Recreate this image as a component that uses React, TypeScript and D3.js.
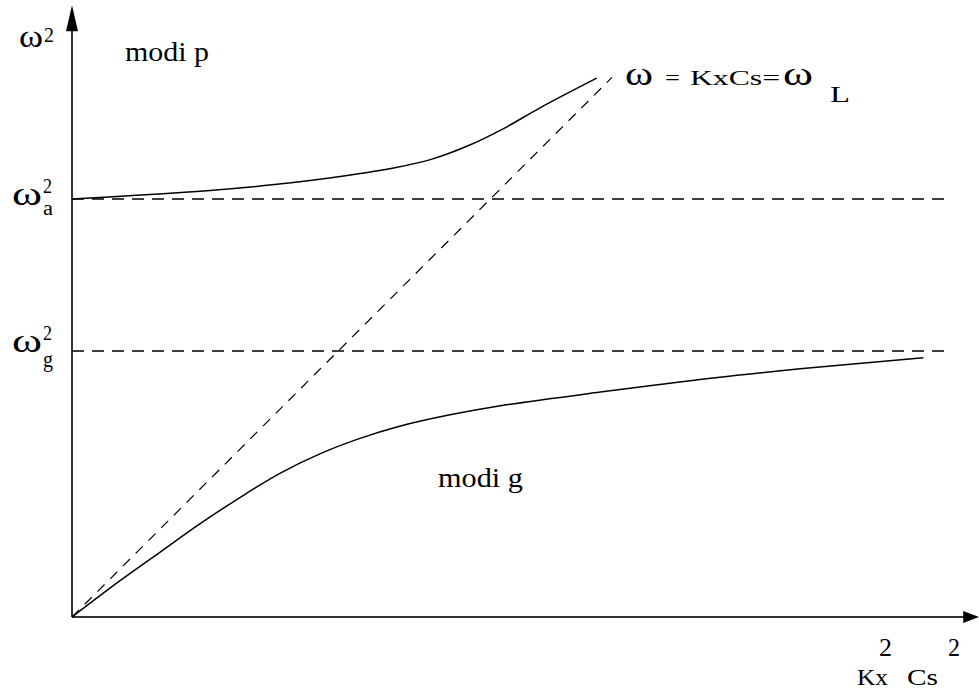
import React from "react";
import * as d3 from "d3";

// kx²cs² (horizontal) and ω² (vertical), arbitrary units
const pModeX = [0, 1.5, 2.25, 3.0, 3.6, 4.0, 4.4, 4.8, 5.2, 5.83];
const pModeY = [11.0, 11.22, 11.38, 11.6, 11.83, 12.05, 12.4, 12.86, 13.4, 14.18];

const gModeX = [0, 0.53, 0.98, 1.42, 1.87, 2.31, 2.76, 3.2, 3.64, 4.2, 4.76, 5.87, 7.12, 8.09, 9.46];
const gModeY = [0, 0.95, 1.71, 2.45, 3.15, 3.78, 4.3, 4.7, 5.02, 5.32, 5.56, 5.92, 6.29, 6.53, 6.82];

const lambX = [0, 6.0];
const lambY = [0, 14.2];

const omegaA2 = 11;
const omegaG2 = 7;
const refLineEnd = 9.72;

const W = 979;
const H = 692;
const FONT = "Liberation Serif, Times New Roman, serif";

export default function App() {
  const x = d3.scaleLinear().domain([0, 10]).range([72, 972]);
  const y = d3.scaleLinear().domain([0, 16]).range([617, 9]);

  const line = d3
    .line<[number, number]>()
    .x((d) => x(d[0]))
    .y((d) => y(d[1]))
    .curve(d3.curveCatmullRom.alpha(0.5));
  const straight = d3
    .line<[number, number]>()
    .x((d) => x(d[0]))
    .y((d) => y(d[1]));

  const pPts = pModeX.map((v, i) => [v, pModeY[i]] as [number, number]);
  const gPts = gModeX.map((v, i) => [v, gModeY[i]] as [number, number]);
  const lPts = lambX.map((v, i) => [v, lambY[i]] as [number, number]);

  const x0 = x(0);
  const y0 = y(0);
  const yTip = y(16.1);
  const xTip = x(10.08);

  const T = (props: any) => <text lengthAdjust="spacingAndGlyphs" {...props} />;

  return (
    <svg
      width={W}
      height={H}
      style={{ position: "absolute", left: 0, top: 0, background: "#fff" }}
      fontFamily={FONT}
    >
      {/* axes */}
      <line x1={x0} y1={y0} x2={x0} y2={yTip + 20} stroke="#333" strokeWidth={2} />
      <line x1={x0} y1={y0} x2={xTip - 14} y2={y0} stroke="#333" strokeWidth={2} />
      <path d={`M${x0},${yTip} L${x0 - 6},${yTip + 26} L${x0 + 6},${yTip + 26} Z`} fill="#000" />
      <path d={`M${xTip},${y0} L${xTip - 16},${y0 - 6} L${xTip - 16},${y0 + 6} Z`} fill="#000" />

      {/* reference levels */}
      {[omegaA2, omegaG2].map((v) => (
        <line
          key={v}
          x1={x(0)}
          x2={x(refLineEnd)}
          y1={y(v)}
          y2={y(v)}
          stroke="#000"
          strokeWidth={1.3}
          strokeDasharray="12,8"
        />
      ))}

      {/* Lamb line */}
      <path d={straight(lPts) || ""} fill="none" stroke="#000" strokeWidth={1.2} strokeDasharray="10,8" />

      {/* modes */}
      <path d={line(pPts) || ""} fill="none" stroke="#000" strokeWidth={1.5} />
      <path d={line(gPts) || ""} fill="none" stroke="#000" strokeWidth={1.5} />

      <g fill="#000">
        {/* y label */}
        <T x={19} y={47} fontSize={32} textLength={24}>ω</T>
        <T x={44} y={42} fontSize={22} textLength={10}>2</T>

        <T x={125} y={61} fontSize={27} textLength={84}>modi p</T>
        <T x={438} y={487} fontSize={27} textLength={85}>modi g</T>

        {/* omega_a^2 */}
        <T x={12} y={205} fontSize={34} textLength={30}>ω</T>
        <T x={43} y={193} fontSize={20} textLength={9}>2</T>
        <T x={43} y={215} fontSize={20} textLength={10}>a</T>

        {/* omega_g^2 */}
        <T x={12} y={352} fontSize={34} textLength={30}>ω</T>
        <T x={43} y={340} fontSize={21} textLength={9}>2</T>
        <T x={43} y={367} fontSize={23} textLength={10}>g</T>

        {/* formula */}
        <T x={625} y={85} fontSize={34} textLength={28}>ω</T>
        <T x={665} y={85} fontSize={22} textLength={15}>=</T>
        <T x={690} y={85} fontSize={22} textLength={90}>KxCs=</T>
        <T x={783} y={85} fontSize={34} textLength={30}>ω</T>
        <T x={830} y={102} fontSize={24} textLength={20}>L</T>

        {/* x label */}
        <T x={857} y={685} fontSize={24} textLength={31}>Kx</T>
        <T x={879} y={656} fontSize={25} textLength={13}>2</T>
        <T x={907} y={685} fontSize={24} textLength={31}>Cs</T>
        <T x={948} y={656} fontSize={25} textLength={12}>2</T>
      </g>
    </svg>
  );
}
